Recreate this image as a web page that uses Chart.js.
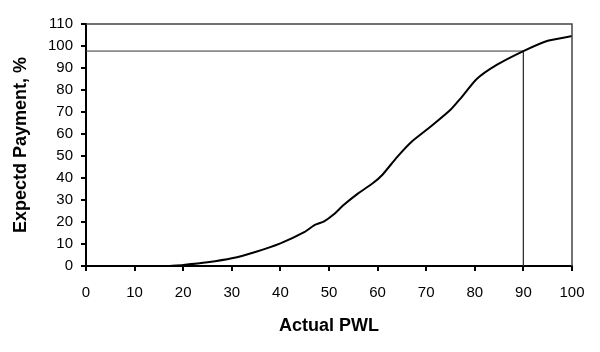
<!DOCTYPE html>
<html>
<head>
<meta charset="utf-8">
<script src="https://cdn.jsdelivr.net/npm/chart.js@4/dist/chart.umd.min.js"></script>
<style>
html,body{margin:0;padding:0;background:#fff;}
#wrap{width:600px;height:352px;}
</style>
</head>
<body>
<div id="wrap"><canvas id="c" width="600" height="352"></canvas></div>
<script>
const pwl =     [17, 20, 25, 30, 35, 40, 45, 47, 49, 51, 53, 56, 59, 61, 64, 67, 71, 75, 77, 80.4, 84.5, 90, 95, 100];
const payment = [0, 0.5, 1.7, 3.5, 6.5, 10.3, 15.5, 18.6, 20.3, 23.5, 27.7, 33, 37.6, 41.5, 49.5, 56.5, 63.5, 71, 76, 85, 91.4, 97.7, 102.4, 104.5];
const refX = [0, 90, 90];
const refY = [97.7, 97.7, 0];
const xTicks = [0,10,20,30,40,50,60,70,80,90,100];
const yTicks = [0,10,20,30,40,50,60,70,80,90,100,110];

const frame = {
  id: 'frame',
  afterDatasetsDraw(chart) {
    const a = chart.chartArea, ctx = chart.ctx;
    ctx.save();
    ctx.strokeStyle = '#444';
    ctx.lineWidth = 1.5;
    ctx.beginPath();
    ctx.moveTo(a.left, a.top);
    ctx.lineTo(a.right, a.top);
    ctx.lineTo(a.right, a.bottom);
    ctx.stroke();
    ctx.restore();
  }
};

new Chart(document.getElementById('c'), {
  type: 'line',
  data: {
    datasets: [
      {
        data: pwl.map((x, i) => ({x: x, y: payment[i]})),
        borderColor: '#000', borderWidth: 2, pointRadius: 0, tension: 0.2, fill: false
      },
      {
        data: refX.map((x, i) => ({x: x, y: refY[i]})),
        borderColor: '#333', borderWidth: 1, pointRadius: 0, tension: 0, fill: false
      }
    ]
  },
  options: {
    responsive: false,
    animation: false,
    devicePixelRatio: 1,
    layout: {padding: {top: 24, right: 28, left: 0, bottom: 0}},
    plugins: {legend: {display: false}, tooltip: {enabled: false}},
    scales: {
      x: {
        type: 'linear', min: 0, max: 100,
        afterBuildTicks: s => { s.ticks = xTicks.map(v => ({value: v})); },
        afterFit: s => { s.height = 86; },
        grid: {drawOnChartArea: false, tickLength: 5, color: '#000', lineWidth: 2},
        border: {color: '#000', width: 2},
        ticks: {color: '#000', font: {family: 'Liberation Sans', size: 15}, padding: 13, maxRotation: 0},
        title: {display: true, text: 'Actual PWL', color: '#000', font: {family: 'Liberation Sans', size: 18, weight: 'bold'}, padding: {top: 0, bottom: 15}}
      },
      y: {
        type: 'linear', min: 0, max: 110,
        afterBuildTicks: s => { s.ticks = yTicks.map(v => ({value: v})); },
        afterFit: s => { s.width = 86; },
        grid: {drawOnChartArea: false, tickLength: 5, color: '#000', lineWidth: 2},
        border: {color: '#000', width: 2},
        ticks: {color: '#000', font: {family: 'Liberation Sans', size: 15}, padding: 8},
        title: {display: true, text: 'Expectd Payment, %', color: '#000', font: {family: 'Liberation Sans', size: 18, weight: 'bold'}, padding: {top: 10, bottom: 0}}
      }
    }
  },
  plugins: [frame]
});
</script>
</body>
</html>
